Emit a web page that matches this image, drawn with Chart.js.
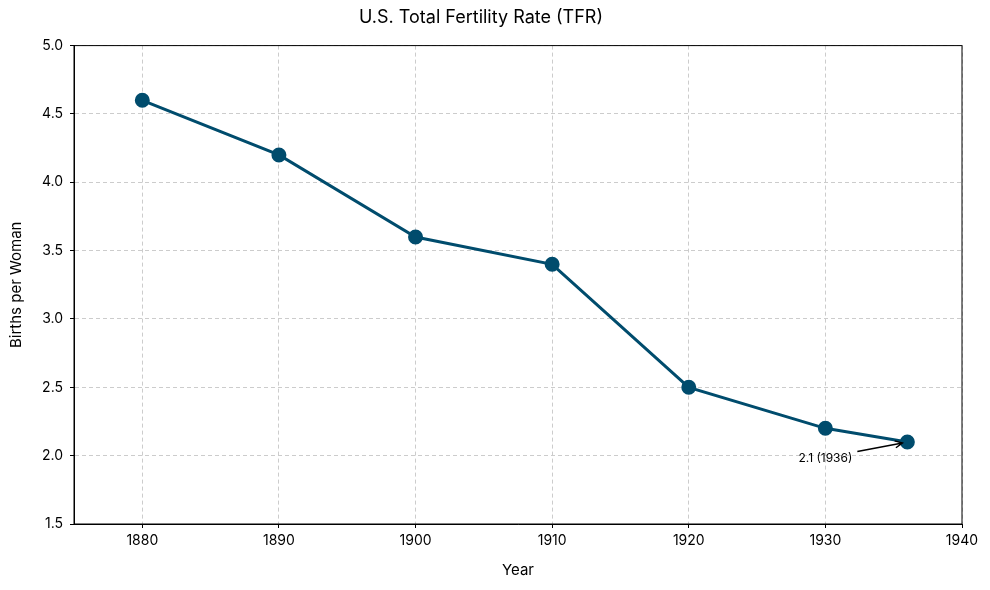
<!DOCTYPE html>
<html>
<head>
<meta charset="utf-8">
<script src="https://cdn.jsdelivr.net/npm/chart.js@4.4.1/dist/chart.umd.min.js"></script>
<style>
    html, body { margin: 0; padding: 0; background: #fff; }
    #wrap { width: 990px; height: 590px; }
</style>
</head>
<body>
<div id="wrap"><canvas id="tfr"></canvas></div>
<script>
    // Data
    var years = [1880, 1890, 1900, 1910, 1920, 1930, 1936];
    var tfr = [4.6, 4.2, 3.6, 3.4, 2.5, 2.2, 2.1];
    var xTicks = [1880, 1890, 1900, 1910, 1920, 1930, 1940];
    var yTicks = [1.5, 2.0, 2.5, 3.0, 3.5, 4.0, 4.5, 5.0];
    var noteText = "2.1 (1936)";

    var lineColor = "#004c6d";
    var fontFamily = "Inter, 'Noto Sans', sans-serif";

    // Full frame round the plot area
    var framePlugin = {
        id: "frame",
        afterDatasetsDraw: function (chart) {
            var a = chart.chartArea, ctx = chart.ctx;
            ctx.save();
            ctx.strokeStyle = "#000";
            ctx.lineWidth = 1;
            ctx.strokeRect(a.left, a.top, a.right - a.left, a.bottom - a.top);
            ctx.restore();
        }
    };

    // Arrow note for the last point
    var notePlugin = {
        id: "note",
        afterDatasetsDraw: function (chart) {
            var ctx = chart.ctx, xs = chart.scales.x, ys = chart.scales.y;
            var last = years.length - 1;
            var px = xs.getPixelForValue(years[last]);
            var py = ys.getPixelForValue(tfr[last]);
            var tx = xs.getPixelForValue(1930);
            var ty = ys.getPixelForValue(1.98);
            ctx.save();
            ctx.font = "12px " + fontFamily;
            ctx.fillStyle = "#000";
            ctx.textAlign = "center";
            ctx.textBaseline = "middle";
            ctx.fillText(noteText, tx, ty);
            var w = ctx.measureText(noteText).width;
            var sx = tx + w / 2 + 5, sy = ty - 7;
            var ex = px - 5, ey = py + 1;
            ctx.strokeStyle = "#000";
            ctx.lineWidth = 1.5;
            ctx.beginPath();
            ctx.moveTo(sx, sy);
            ctx.lineTo(ex, ey);
            var ang = Math.atan2(ey - sy, ex - sx);
            var h = 8;
            ctx.moveTo(ex - h * Math.cos(ang - 0.45), ey - h * Math.sin(ang - 0.45));
            ctx.lineTo(ex, ey);
            ctx.lineTo(ex - h * Math.cos(ang + 0.45), ey - h * Math.sin(ang + 0.45));
            ctx.stroke();
            ctx.restore();
        }
    };

    var ctx = document.getElementById("tfr").getContext("2d");
    var tfrChart = new Chart(ctx, {
        type: "line",
        data: {
            datasets: [{
                label: "TFR",
                data: years.map(function (y, i) { return {x: y, y: tfr[i]}; }),
                borderColor: lineColor,
                backgroundColor: lineColor,
                borderWidth: 3,
                pointRadius: 6,
                pointHoverRadius: 6,
                pointBackgroundColor: lineColor,
                pointBorderColor: lineColor,
                fill: false,
                tension: 0
            }]
        },
        options: {
            responsive: true,
            maintainAspectRatio: false,
            animation: false,
            layout: { padding: { top: 0, right: 28, bottom: 0, left: 0 } },
            plugins: {
                legend: { display: false },
                tooltip: { enabled: false },
                title: {
                    display: true,
                    text: "U.S. Total Fertility Rate (TFR)",
                    color: "#000",
                    font: { family: fontFamily, size: 18, weight: "normal" },
                    padding: { top: 7, bottom: 17 }
                }
            },
            scales: {
                x: {
                    type: "linear",
                    min: 1875,
                    max: 1940,
                    afterBuildTicks: function (scale) {
                        scale.ticks = xTicks.map(function (v) { return {value: v}; });
                    },
                    afterFit: function (scale) { scale.height = 66; },
                    ticks: {
                        color: "#000",
                        padding: 4,
                        maxRotation: 0,
                        font: { family: fontFamily, size: 14 },
                        callback: function (v) { return String(v); }
                    },
                    grid: {
                        color: "#cccccc",
                        tickColor: "#000",
                        tickLength: 4,
                        tickBorderDash: []
                    },
                    border: { display: true, color: "#000", dash: [4, 3] },
                    title: {
                        display: true,
                        text: "Year",
                        color: "#000",
                        font: { family: fontFamily, size: 15 },
                        padding: { top: 4, bottom: 11 }
                    }
                },
                y: {
                    type: "linear",
                    min: 1.5,
                    max: 5.0,
                    afterBuildTicks: function (scale) {
                        scale.ticks = yTicks.map(function (v) { return {value: v}; });
                    },
                    afterFit: function (scale) { scale.width = 74; },
                    ticks: {
                        color: "#000",
                        padding: 7,
                        font: { family: fontFamily, size: 14 },
                        callback: function (v) { return v.toFixed(1); }
                    },
                    grid: {
                        color: "#cccccc",
                        tickColor: "#000",
                        tickLength: 4,
                        tickBorderDash: []
                    },
                    border: { display: true, color: "#000", dash: [4, 3] },
                    title: {
                        display: true,
                        text: "Births per Woman",
                        color: "#000",
                        font: { family: fontFamily, size: 15 },
                        padding: { top: 7, bottom: 0 }
                    }
                }
            }
        },
        plugins: [framePlugin, notePlugin]
    });
</script>
</body>
</html>
